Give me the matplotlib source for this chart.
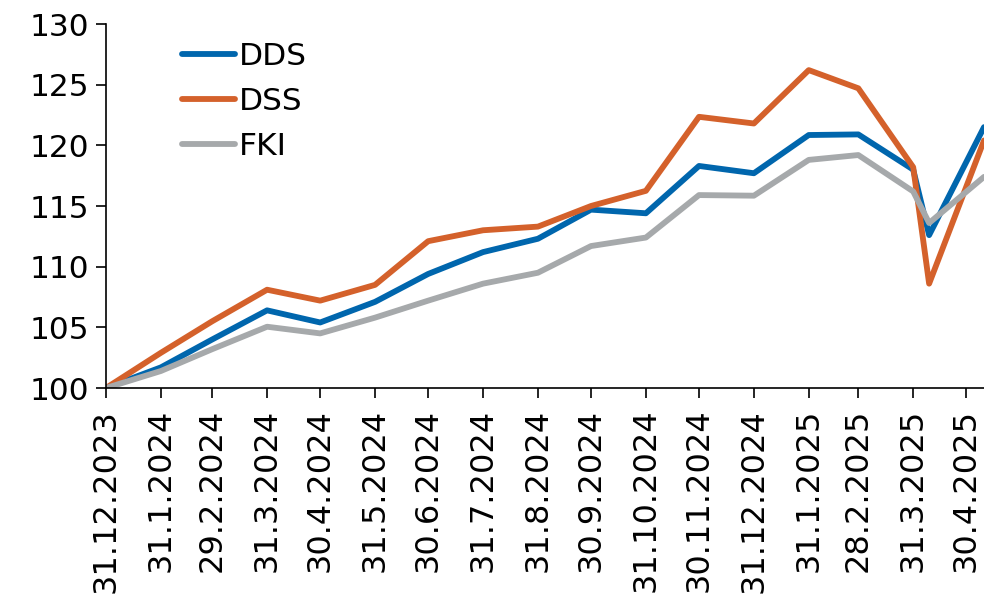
import numpy as np
import pandas as pd
import matplotlib
matplotlib.use('Agg')
import matplotlib.pyplot as plt

# observation dates (last one sits at the right edge of the plot)
dates = ['2023-12-31', '2024-01-31', '2024-02-29', '2024-03-31', '2024-04-30',
         '2024-05-31', '2024-06-30', '2024-07-31', '2024-08-31', '2024-09-30',
         '2024-10-31', '2024-11-30', '2024-12-31', '2025-01-31', '2025-02-28',
         '2025-03-31', '2025-04-09', '2025-05-10']

dds = [100.0, 101.7, 104.0, 106.4, 105.4, 107.1, 109.4, 111.2, 112.3, 114.7,
       114.4, 118.3, 117.7, 120.85, 120.9, 118.0, 112.6, 121.5]
dss = [100.0, 102.9, 105.5, 108.1, 107.2, 108.5, 112.1, 113.0, 113.3, 115.0,
       116.25, 122.35, 121.8, 126.2, 124.7, 118.2, 108.6, 120.4]
fki = [100.0, 101.4, 103.2, 105.05, 104.5, 105.8, 107.2, 108.6, 109.5, 111.7,
       112.4, 115.9, 115.85, 118.8, 119.2, 116.2, 113.6, 117.4]

tick_dates = ['2023-12-31', '2024-01-31', '2024-02-29', '2024-03-31', '2024-04-30',
              '2024-05-31', '2024-06-30', '2024-07-31', '2024-08-31', '2024-09-30',
              '2024-10-31', '2024-11-30', '2024-12-31', '2025-01-31', '2025-02-28',
              '2025-03-31', '2025-04-30']

x = pd.to_datetime(dates)
ticks = pd.to_datetime(tick_dates)
tick_labels = [f'{d.day}.{d.month}.{d.year}' for d in ticks]

plt.rcParams['font.family'] = ['DejaVu Sans']

fig = plt.figure(figsize=(9.84, 5.94), dpi=100)
ax = fig.add_axes([106/984, 1-388/594, 1-106/984, (388-24)/594])

ax.plot(x, dds, color='#0066ad', lw=4.2, label='DDS', solid_capstyle='round')
ax.plot(x, dss, color='#d4612b', lw=4.2, label='DSS', solid_capstyle='round')
ax.plot(x, fki, color='#a6a9ab', lw=4.2, label='FKI', solid_capstyle='round')

ax.set_xlim(x[0], x[-1])
ax.set_ylim(100, 130)
ax.set_yticks(np.arange(100, 131, 5))
ax.set_xticks(ticks)
ax.set_xticklabels(tick_labels, rotation=90)

for s in ['top', 'right']:
    ax.spines[s].set_visible(False)
ax.spines['left'].set_linewidth(1.2)
ax.spines['bottom'].set_linewidth(1.2)
ax.tick_params(axis='y', labelsize=22.5, length=7, width=1.2, direction='out', pad=5)
ax.tick_params(axis='x', labelsize=23, length=7, width=1.2, direction='out', pad=8)

leg = ax.legend(loc='upper left', bbox_to_anchor=(0.054, 1.027), frameon=False,
                fontsize=22.5, handlelength=1.7, handletextpad=0.15, labelspacing=0.5)

fig.savefig('out.png', dpi=100)
